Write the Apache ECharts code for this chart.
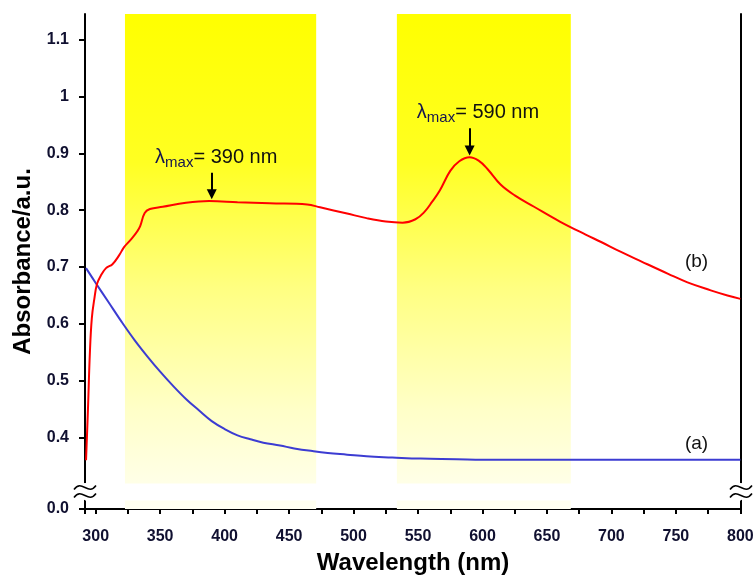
<!DOCTYPE html>
<html>
<head>
<meta charset="utf-8">
<script src="https://cdn.jsdelivr.net/npm/echarts@6/dist/echarts.min.js"></script>
<style>
html, body { margin: 0; padding: 0; background: #fff; }
#main { width: 755px; height: 575px; }
</style>
</head>
<body>
<div id="main"></div>
<script>
// curve (a)
var wavelengthA = [292.5, 300, 310, 320, 330, 340, 350, 360, 370, 380, 390, 400, 410, 420, 430, 443, 454, 469, 480, 495, 510, 530, 552, 580, 600, 650, 700, 750, 800];
var absorbA = [0.698, 0.672, 0.638, 0.604, 0.572, 0.543, 0.516, 0.491, 0.468, 0.448, 0.429, 0.415, 0.404, 0.397, 0.391, 0.386, 0.381, 0.376, 0.373, 0.370, 0.367, 0.365, 0.363, 0.362, 0.361, 0.361, 0.361, 0.361, 0.361];
// curve (b)
var wavelengthB = [292.5, 294, 295.5, 297, 299, 301, 304, 308, 313, 318, 322, 326, 329, 332, 334.5, 338, 342, 352, 370, 388, 410, 435, 464, 474, 495, 510, 525, 538, 548, 555, 561, 567, 575, 582, 590, 597, 604, 614, 625, 640, 660, 680, 692, 707, 723, 744, 759, 777, 790, 800];
var absorbB = [0.36, 0.45, 0.55, 0.61, 0.645, 0.67, 0.685, 0.698, 0.705, 0.72, 0.735, 0.745, 0.753, 0.762, 0.772, 0.795, 0.802, 0.806, 0.813, 0.816, 0.814, 0.812, 0.81, 0.805, 0.794, 0.786, 0.78, 0.778, 0.784, 0.797, 0.815, 0.835, 0.869, 0.886, 0.893, 0.887, 0.872, 0.845, 0.826, 0.806, 0.780, 0.757, 0.744, 0.727, 0.710, 0.688, 0.673, 0.659, 0.65, 0.644];

// y tick values (0.0 sits below the axis break)
var yTickValues = [0, 0.4, 0.5, 0.6, 0.7, 0.8, 0.9, 1.0, 1.1];

// shaded bands (nm)
var bandStart = [322.7, 533.6];
var bandEnd = [471, 668.5];

// lambda max annotations
var peakNm = [390, 590];
var peakArrowFrom = [0.866, 0.944];
var peakArrowTo = [0.828, 0.905];
var peakTextPos = [[393.5, 0.893], [596.5, 0.972]];

// curve labels
var curveNames = ['(a)', '(b)'];
var curveLabelPos = [[766, 0.39], [766, 0.71]];

var xMin = 291.7, xMax = 800.5;
var yMin = 0, yMax = 1.145;
var brkStart = 0.016, brkEnd = 0.32;

function pairs(xs, ys) {
    var out = [];
    for (var i = 0; i < xs.length; i++) out.push([xs[i], ys[i]]);
    return out;
}

var font = '"Liberation Sans", Arial, sans-serif';
var myChart = echarts.init(document.getElementById('main'));

var bandFill = new echarts.graphic.LinearGradient(0, 0, 0, 1, [
    {offset: 0, color: '#ffff00'},
    {offset: 0.3, color: '#ffff22'},
    {offset: 0.55, color: '#ffff80'},
    {offset: 0.8, color: '#ffffc8'},
    {offset: 1, color: '#fffff2'}
]);

var bandData = [];
for (var i = 0; i < bandStart.length; i++) {
    bandData.push([{xAxis: bandStart[i]}, {xAxis: bandEnd[i]}]);
}

var arrowData = [];
var peakLabels = [];
for (var j = 0; j < peakNm.length; j++) {
    arrowData.push([{coord: [peakNm[j], peakArrowFrom[j]]}, {coord: [peakNm[j], peakArrowTo[j]]}]);
    peakLabels.push({
        coord: peakTextPos[j],
        label: {formatter: '{l|λ}{s|max}{n|= ' + peakNm[j] + ' nm}'}
    });
}

var nameLabels = [];
for (var k = 0; k < curveNames.length; k++) {
    nameLabels.push({
        coord: curveLabelPos[k],
        label: {formatter: curveNames[k], fontSize: 19, fontFamily: font, color: '#111'}
    });
}

var option = {
    backgroundColor: '#fff',
    animation: false,
    grid: {left: 85, right: 14, top: 14, bottom: 66, outerBoundsMode: 'none', containLabel: false},
    xAxis: [
        {
            type: 'value', min: xMin, max: xMax,
            splitNumber: 20, minInterval: 25, maxInterval: 25,
            name: 'Wavelength (nm)', nameLocation: 'middle', nameGap: 42,
            nameTextStyle: {fontSize: 24, fontWeight: 'bold', color: '#000', fontFamily: font},
            axisLine: {lineStyle: {color: '#000', width: 2}},
            axisTick: {inside: false, length: 5, lineStyle: {color: '#000', width: 2}},
            axisLabel: {
                interval: 0, margin: 20, fontSize: 16, fontWeight: 'bold', color: '#101030', fontFamily: font,
                formatter: function (v) {
                    return (Math.abs(v % 50) < 1e-6) ? String(v) : '';
                }
            },
            splitLine: {show: false}
        },
        {
            type: 'value', position: 'top', min: xMin, max: xMax,
            splitNumber: 20, minInterval: 25, maxInterval: 25,
            axisLine: {lineStyle: {color: '#000', width: 2}},
            axisTick: {inside: true, length: 5, lineStyle: {color: '#000', width: 2}},
            axisLabel: {show: false},
            splitLine: {show: false}
        }
    ],
    yAxis: [
        {
            type: 'value', min: yMin, max: yMax, interval: 0.1,
            breaks: [{start: brkStart, end: brkEnd, gap: '3.4%'}],
            breakArea: {
                show: true,
                itemStyle: {color: '#fff', borderColor: '#fff', borderWidth: 0, opacity: 1},
                zigzagAmplitude: 0,
                expandOnClick: false
            },
            name: 'Absorbance/a.u.', nameLocation: 'middle', nameGap: 50,
            nameTextStyle: {fontSize: 24, fontWeight: 'bold', color: '#000', fontFamily: font},
            axisLine: {lineStyle: {color: '#000', width: 2}},
            axisTick: {inside: false, length: 6, customValues: yTickValues, lineStyle: {color: '#000', width: 2}},
            axisLabel: {
                customValues: yTickValues, hideOverlap: false,
                margin: 16, fontSize: 16, fontWeight: 'bold', color: '#101030', fontFamily: font,
                formatter: function (v) {
                    var r = Math.round(v * 10) / 10;
                    return r === 0 ? '0.0' : String(r);
                }
            },
            splitLine: {show: false}
        },
        {
            type: 'value', position: 'right', min: yMin, max: yMax,
            axisLine: {show: true, lineStyle: {color: '#000', width: 2}},
            axisTick: {show: false},
            axisLabel: {show: false},
            splitLine: {show: false}
        }
    ],
    series: [
        {
            name: 'bands', type: 'line', data: [], z: 1, silent: true,
            markArea: {silent: true, itemStyle: {color: bandFill}, data: bandData}
        },
        {
            name: 'a', type: 'line', z: 3,
            data: pairs(wavelengthA, absorbA),
            showSymbol: false, smooth: 0.4,
            lineStyle: {color: '#3c3cd2', width: 2}
        },
        {
            name: 'b', type: 'line', z: 3,
            data: pairs(wavelengthB, absorbB),
            showSymbol: false, smooth: 0.4,
            lineStyle: {color: '#ff0000', width: 2},
            markLine: {
                silent: true, symbol: ['none', 'triangle'], symbolSize: 10,
                lineStyle: {color: '#000', width: 2, type: 'solid'},
                itemStyle: {color: '#000'},
                label: {show: false},
                data: arrowData
            },
            markPoint: {
                silent: true, symbol: 'circle', symbolSize: 1,
                itemStyle: {color: 'rgba(0,0,0,0)'},
                label: {
                    show: true, position: 'inside', color: '#111',
                    rich: {
                        l: {fontSize: 20, fontFamily: font, color: '#141450'},
                        s: {fontSize: 15, fontFamily: font, color: '#141450', padding: [11, 0, 0, 0]},
                        n: {fontSize: 20, fontFamily: font, color: '#111'}
                    }
                },
                data: peakLabels.concat(nameLabels)
            }
        }
    ]
};

myChart.setOption(option);

// axis-break marks on the left and right frame lines
function drawBreakMarks() {
    var yTop = myChart.convertToPixel({yAxisIndex: 0}, brkEnd);
    var yBot = myChart.convertToPixel({yAxisIndex: 0}, brkStart);
    var xs = [myChart.convertToPixel({xAxisIndex: 0}, xMin), myChart.convertToPixel({xAxisIndex: 0}, xMax)];
    var mid = (yTop + yBot) / 2;
    var els = [];
    xs.forEach(function (cx) {
        els.push({type: 'rect', z: 100, shape: {x: cx - 3, y: yTop, width: 6, height: yBot - yTop}, style: {fill: '#fff'}});
        [-4, 4].forEach(function (dy) {
            var cy = mid + dy;
            els.push({
                type: 'bezierCurve', z: 101,
                shape: {x1: cx - 11, y1: cy + 2, cpx1: cx - 3, cpy1: cy - 9, cpx2: cx + 3, cpy2: cy + 9, x2: cx + 11, y2: cy - 2},
                style: {stroke: '#000', lineWidth: 1.5, fill: null}
            });
        });
    });
    myChart.setOption({graphic: els});
}
drawBreakMarks();
</script>
</body>
</html>
